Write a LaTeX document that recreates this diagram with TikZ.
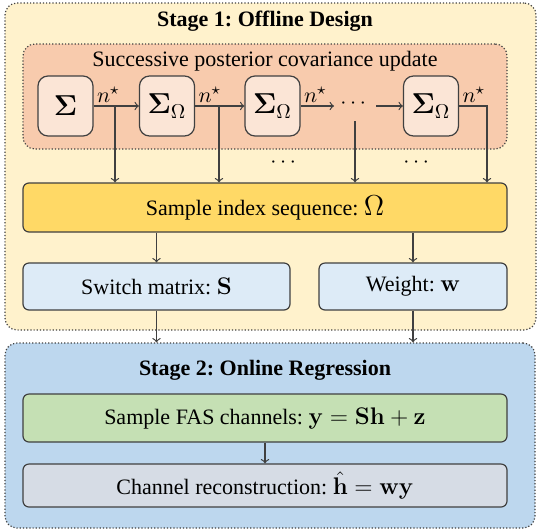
\documentclass[tikz,border=0pt]{standalone}
\usepackage{amsmath}
\usepackage{amssymb}
\usepackage[no-math]{fontspec}
\setmainfont{Liberation Serif}
\usetikzlibrary{positioning}
\frenchspacing

\definecolor{stageone}{HTML}{FFF2CC}
\definecolor{succfill}{HTML}{F8CBAD}
\definecolor{sigfill}{HTML}{FBE5D6}
\definecolor{omegafill}{HTML}{FFD966}
\definecolor{lightblue}{HTML}{DDEBF7}
\definecolor{stagetwo}{HTML}{BDD7EE}
\definecolor{greenfill}{HTML}{C5E0B4}
\definecolor{greyfill}{HTML}{D6DCE5}
\definecolor{edge}{HTML}{404040}

\tikzset{
  box/.style={draw=edge, line width=0.6pt, rounded corners=3pt, inner sep=0pt},
  stagebox/.style={draw=edge, densely dotted, line width=0.6pt, rounded corners=6pt, inner sep=0pt},
  sigbox/.style={box, fill=sigfill, minimum width=27.5pt, minimum height=30pt, rounded corners=5pt},
  arr/.style={->, draw=edge, line width=0.6pt},
  stagetitle/.style={font=\fontsize{11}{13}\selectfont\bfseries},
}

\begin{document}
\begin{tikzpicture}[x=0.5pt, y=-0.5pt, font=\fontsize{11}{13}\selectfont]

\useasboundingbox (0,0) rectangle (539,531);

% Stage 1
\node[stagebox, fill=stageone, minimum width=265.5pt, minimum height=163.5pt] (st1) at (270.5,166.5) {};
\node[stagetitle] (t1) at (265,21) {Stage 1: Offline Design};

\node[stagebox, fill=succfill, minimum width=242pt, minimum height=52.5pt] (succ) at (265,96.5) {};
\node (tsucc) at (265,61) {Successive posterior covariance update};

\node[sigbox] (s0) at (65.5,106) {\Large$\boldsymbol{\Sigma}$};
\node[sigbox] (s1) at (167,106) {\Large$\boldsymbol{\Sigma}_\Omega$};
\node[sigbox] (s2) at (272.5,106) {\Large$\boldsymbol{\Sigma}_\Omega$};
\node[sigbox] (s3) at (431,106) {\Large$\boldsymbol{\Sigma}_\Omega$};

\node[anchor=south west, inner sep=1.5pt] (n0) at (s0.east) {$n^\star$};
\node[anchor=south west, inner sep=1.5pt] (n1) at (s1.east) {$n^\star$};
\node[anchor=south west, inner sep=1.5pt] (n2) at (s2.east) {$n^\star$};
\node[anchor=south west, inner sep=1.5pt] (n3) at (s3.east) {$n^\star$};

\coordinate (d0) at (115,106);
\coordinate (d1) at (219,106);
\coordinate (d2) at (355,121);
\coordinate (d3) at (487,106);
\coordinate (e2) at (334,106);
\coordinate (f3) at (376,106);
\node (mdots) at (355,104) {$\cdots$};

\draw[arr] (s0) -- (s1);
\draw[arr] (s1) -- (s2);
\draw[arr] (s2) -- (e2);
\draw[arr] (f3) -- (s3);

% Sample index sequence
\node[box, fill=omegafill, minimum width=242pt, minimum height=24.5pt] (omega) at (265,207.5) {Sample index sequence: {\Large$\Omega$}};

\draw[arr] (d0) -- (d0 |- omega.north);
\draw[arr] (d1) -- (d1 |- omega.north);
\draw[arr] (d2) -- (d2 |- omega.north);
\draw[arr] (s3.east) -- (d3) -- (d3 |- omega.north);

\node (ld1) at (285,163) {$\cdots$};
\node (ld2) at (418,163) {$\cdots$};

\node[box, fill=lightblue, minimum width=133.5pt, minimum height=23.5pt] (sw) at (156.5,286.5) {Switch matrix: {\large$\mathbf{S}$}};
\node[box, fill=lightblue, minimum width=94pt, minimum height=23.5pt] (wt) at (413,286.5) {Weight: {\large$\mathbf{w}$}};

\draw[arr] (omega.south -| sw) -- (sw);
\draw[arr] (omega.south -| wt) -- (wt);

% Stage 2
\node[stagebox, fill=stagetwo, minimum width=265pt, minimum height=92.5pt] (st2) at (270,435.5) {};
\node[stagetitle] (t2) at (265,370) {Stage 2: Online Regression};

\draw[arr] (sw) -- (sw |- st2.north);
\draw[arr] (wt) -- (wt |- st2.north);

\node[box, fill=greenfill, minimum width=242pt, minimum height=24pt] (samp) at (265,418) {Sample FAS channels: {\large$\mathbf{y}=\mathbf{S}\mathbf{h}+\mathbf{z}$}};
\node[box, fill=greyfill, minimum width=242pt, minimum height=21.5pt] (rec) at (265,485.5) {Channel reconstruction: {\large$\hat{\mathbf{h}}=\mathbf{w}\mathbf{y}$}};

\draw[arr] (samp) -- (rec);

\end{tikzpicture}
\end{document}
